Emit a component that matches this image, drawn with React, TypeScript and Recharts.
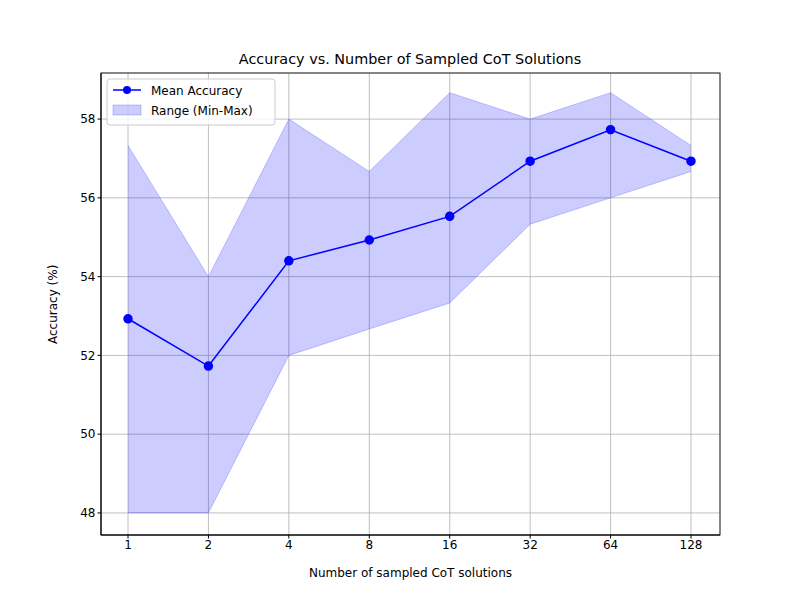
import React from "react";
import { ComposedChart, Area, Line, XAxis, YAxis, CartesianGrid } from "recharts";

const categories = ["1", "2", "4", "8", "16", "32", "64", "128"];
const meanAcc = [52.93, 51.73, 54.4, 54.93, 55.53, 56.93, 57.73, 56.93];
const minAcc = [48, 48, 52, 52.67, 53.33, 55.33, 56, 56.67];
const maxAcc = [57.33, 54, 58, 56.67, 58.67, 58, 58.67, 57.33];
const yTicks = [48, 50, 52, 54, 56, 58];

const data = categories.map((c, i) => ({ n: c, mean: meanAcc[i], range: [minAcc[i], maxAcc[i]] }));
const font = "DejaVu Sans, sans-serif";

export default function App() {
  return (
    <div style={{ position: "absolute", left: 0, top: 0, width: 800, height: 600, background: "#fff", fontFamily: font }}>
      <ComposedChart width={800} height={600} data={data} margin={{ top: 73, right: 80, bottom: 35, left: 41 }}>
        <CartesianGrid stroke="#b0b0b0" strokeWidth={0.8} />
        <XAxis dataKey="n" padding={{ left: 27, right: 29 }} height={30} stroke="#000" tick={{ fill: "#000", fontSize: 12, fontFamily: font }} tickSize={3.5}
          label={{ value: "Number of sampled CoT solutions", position: "insideBottom", offset: -12, fill: "#000", fontSize: 12, fontFamily: font }} />
        <YAxis domain={[47.44, 59.17]} ticks={yTicks} width={60} stroke="#000" tick={{ fill: "#000", fontSize: 12, fontFamily: font }} tickSize={3.5}
          label={{ value: "Accuracy (%)", angle: -90, position: "insideLeft", offset: 12, dy: 40, fill: "#000", fontSize: 12, fontFamily: font }} />
        <Area dataKey="range" type="linear" fill="#0000ff" fillOpacity={0.2} stroke="#0000ff" strokeOpacity={0.2} isAnimationActive={false} />
        <Line dataKey="mean" type="linear" stroke="#0000ff" strokeWidth={1.5} dot={{ r: 4, fill: "#0000ff", stroke: "#0000ff" }} isAnimationActive={false} />
        <rect x={101} y={73} width={619} height={462} fill="none" stroke="#000" strokeWidth={0.8} />
        <text x={410} y={64} textAnchor="middle" fontSize={14.4} fontFamily={font} fill="#000">Accuracy vs. Number of Sampled CoT Solutions</text>
        <g>
          <rect x={107} y={79} width={168} height={46} rx={3} fill="#fff" fillOpacity={0.8} stroke="#ccc" />
          <line x1={113} y1={90} x2={141} y2={90} stroke="#0000ff" strokeWidth={1.5} />
          <circle cx={127} cy={90} r={4} fill="#0000ff" />
          <text x={151} y={94.5} fontSize={12} fontFamily={font} fill="#000">Mean Accuracy</text>
          <rect x={113} y={105} width={28} height={10} fill="#0000ff" fillOpacity={0.2} stroke="#0000ff" strokeOpacity={0.2} />
          <text x={151} y={115} fontSize={12} fontFamily={font} fill="#000">Range (Min-Max)</text>
        </g>
      </ComposedChart>
    </div>
  );
}
